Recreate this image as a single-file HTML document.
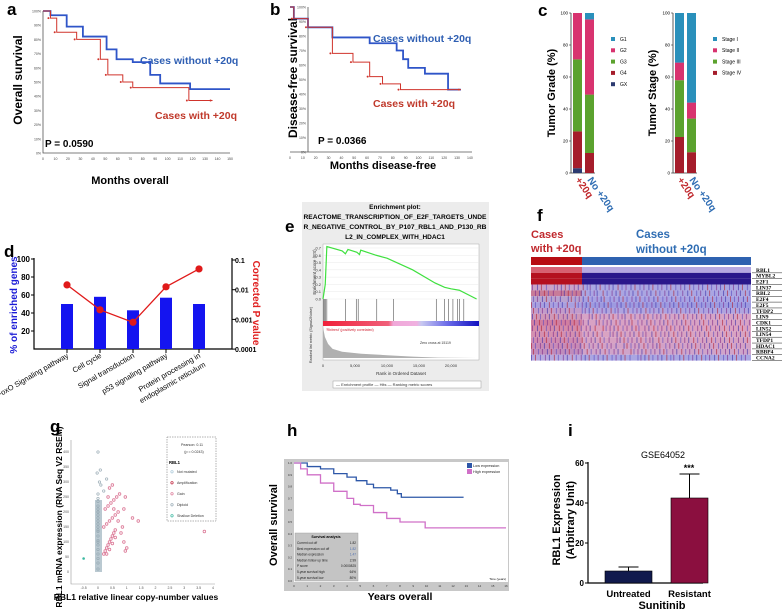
<!DOCTYPE html>
<html><head><meta charset="utf-8"><style>
html,body{margin:0;padding:0;background:#fff;}
svg{display:block;font-family:"Liberation Sans",sans-serif;}
.pl{font-weight:bold;font-size:17px;fill:#000;}
.b{font-weight:bold;}
</style></head><body>
<svg id="fig" width="782" height="609" viewBox="0 0 782 609">
<!-- panel labels -->
<text class="pl" x="7" y="15">a</text>
<text class="pl" x="270" y="15">b</text>
<text class="pl" x="538" y="16">c</text>
<text class="pl" x="4" y="257">d</text>
<text class="pl" x="285" y="232">e</text>
<text class="pl" x="537" y="221">f</text>
<text class="pl" x="50" y="432">g</text>
<text class="pl" x="287" y="436">h</text>
<text class="pl" x="568" y="436">i</text>

<!-- a static text -->
<text x="22" y="80" transform="rotate(-90 22 80)" text-anchor="middle" class="b" font-size="12">Overall survival</text>
<text x="130" y="184" text-anchor="middle" class="b" font-size="11">Months overall</text>
<text x="140" y="64" class="b" font-size="10.5" fill="#2f5fb3">Cases without +20q</text>
<text x="155" y="119" class="b" font-size="10.5" fill="#c0392b">Cases with +20q</text>
<text x="45" y="147" class="b" font-size="10">P = 0.0590</text>
<g id="ga"></g>

<!-- b -->
<text x="297" y="78" transform="rotate(-90 297 78)" text-anchor="middle" class="b" font-size="12">Disease-free survival</text>
<text x="383" y="169" text-anchor="middle" class="b" font-size="11">Months disease-free</text>
<text x="373" y="42" class="b" font-size="10.5" fill="#2f5fb3">Cases without +20q</text>
<text x="373" y="107" class="b" font-size="10.5" fill="#c0392b">Cases with +20q</text>
<text x="318" y="144" class="b" font-size="10">P = 0.0366</text>
<g id="gb"></g>

<!-- c -->
<text x="555" y="93" transform="rotate(-90 555 93)" text-anchor="middle" class="b" font-size="11">Tumor Grade (%)</text>
<text x="656" y="93" transform="rotate(-90 656 93)" text-anchor="middle" class="b" font-size="11">Tumor Stage (%)</text>
<g id="gc"></g>

<!-- d -->
<text x="17" y="305" transform="rotate(-90 17 305)" text-anchor="middle" class="b" font-size="10" fill="#1b1bd6">% of enriched genes</text>
<text x="253" y="303" transform="rotate(90 253 303)" text-anchor="middle" class="b" font-size="10" fill="#e02020">Corrected P value</text>
<g id="gd"></g>

<!-- e -->
<rect x="302" y="202" width="187" height="189" fill="#ececec"/>
<text x="395" y="209" text-anchor="middle" class="b" font-size="6.5">Enrichment plot:</text>
<text x="395" y="219" text-anchor="middle" class="b" font-size="6.5" textLength="183" lengthAdjust="spacingAndGlyphs">REACTOME_TRANSCRIPTION_OF_E2F_TARGETS_UNDE</text>
<text x="395" y="229" text-anchor="middle" class="b" font-size="6.5" textLength="183" lengthAdjust="spacingAndGlyphs">R_NEGATIVE_CONTROL_BY_P107_RBL1_AND_P130_RB</text>
<text x="395" y="239" text-anchor="middle" class="b" font-size="6.5">L2_IN_COMPLEX_WITH_HDAC1</text>
<g id="ge"></g>

<!-- f -->
<text x="531" y="238" class="b" font-size="11" fill="#c0282d">Cases</text>
<text x="531" y="252" class="b" font-size="11" fill="#c0282d">with +20q</text>
<text x="636" y="238" class="b" font-size="11.5" fill="#2f6db3">Cases</text>
<text x="636" y="253" class="b" font-size="11.5" fill="#2f6db3">without +20q</text>
<rect x="531" y="257" width="51" height="8" fill="#b70d13"/>
<rect x="582" y="257" width="169" height="8" fill="#2f62b0"/>
<g id="gf"></g>

<!-- g -->
<text x="62" y="517" transform="rotate(-90 62 517)" text-anchor="middle" class="b" font-size="8.5">RBL1 mRNA expression (RNA Seq V2 RSEM)</text>
<text x="136" y="600" text-anchor="middle" class="b" font-size="8.5">RBL1 relative linear copy-number values</text>
<g id="gg"></g>

<!-- h -->
<rect x="284" y="459" width="225" height="132" fill="#c8c8c8"/>
<rect x="294" y="462" width="214" height="120" fill="#fff"/>
<text x="277" y="525" transform="rotate(-90 277 525)" text-anchor="middle" class="b" font-size="11">Overall survival</text>
<text x="400" y="600" text-anchor="middle" class="b" font-size="10.5">Years overall</text>
<g id="gh"></g>

<!-- i -->
<text x="663" y="458" text-anchor="middle" font-size="9">GSE64052</text>
<text x="560" y="520" transform="rotate(-90 560 520)" text-anchor="middle" class="b" font-size="11">RBL1 Expression</text>
<text x="574" y="520" transform="rotate(-90 574 520)" text-anchor="middle" class="b" font-size="11">(Arbitrary Unit)</text>
<text x="662" y="609" text-anchor="middle" class="b" font-size="11">Sunitinib</text>
<g id="gi"></g>
</svg>
<script>
// ---------- DATA ----------
const aBlueT = [0, 6, 19, 32, 51, 59, 72, 86, 94, 118, 150];
const aBlueS = [100, 97, 89, 82, 73, 66, 64, 55, 49, 45, 45];
const aRedT = [0, 6, 11, 27, 46, 52, 64, 72, 117, 136];
const aRedS = [100, 95, 85, 80, 66, 55, 50, 46, 37, 37];
const aXTicks = [0,10,20,30,40,50,60,70,80,90,100,110,120,130,140,150];
const aYTicks = [0,10,20,30,40,50,60,70,80,90,100];
const bBlueT = [0, 3, 14, 33, 62, 83, 88, 92, 105, 123, 133];
const bBlueS = [100, 92, 86, 79, 75, 70, 64, 58, 54, 43, 43];
const bRedT = [0, 3, 14, 33, 49, 62, 72, 86, 133];
const bRedS = [100, 92, 86, 68, 62, 52, 47, 43, 43];
const bXTicks = [0,10,20,30,40,50,60,70,80,90,100,110,120,130,140];
const gradeNames = ["G1","G2","G3","G4","GX"];
const gradeColors = ["#2a90bb","#d8336f","#5ba22e","#a51d2b","#2c3a70"];
const grade20q = [0, 29, 45, 23, 3];
const gradeNo = [4, 47, 36.5, 12.5, 0];
const stageNames = ["Stage I","Stage II","Stage III","Stage IV"];
const stageColors = ["#2a90bb","#d8336f","#5ba22e","#a51d2b"];
const stage20q = [31, 11, 35.5, 22.5];
const stageNo = [56, 10, 21, 13];
const cTicks = [0,20,40,60,80,100];
const dCats = ["FoxO Signaling pathway","Cell cycle","Signal transduction","p53 signaling pathway","Protein processing in|endoplasmic reticulum"];
const dPct = [50, 58, 43, 57, 50];
const dP = [0.0145, 0.0021, 0.0008, 0.0125, 0.05];
const dLeftTicks = [20,40,60,80,100];
const dRightTicks = [0.0001,0.001,0.01,0.1];
const eRank = [0,350,600,3000,3500,3900,5300,5700,5900,8300,10000,14000,17500,19000,20000,21300,24000];
const eES = [0,0.2,0.72,0.66,0.62,0.68,0.64,0.61,0.67,0.6,0.56,0.4,0.22,0.16,0.14,0.12,0];
const eHits = [100,250,400,600,3500,5200,5500,8400,11000,17700,19000,19600,20300,21000,21300,22000];
const eEsTicks = [0,0.1,0.2,0.3,0.4,0.5,0.6,0.7];
const eRankTicks = [0,5000,10000,15000,20000];
const eMetricRank = [0,300,800,1500,3000,6000,10000,14000,18000,24000];
const eMetricVal = [4.4,3,2,1.3,0.9,0.6,0.4,0.2,0.05,0];
const fGenes = ["RBL1","MYBL2","E2F1","LIN37","RBL2","E2F4","E2F5","TFDP2","LIN9","CDK1","LIN52","LIN54","TFDP1","HDAC1","RBBP4","CCNA2"];
const fBaseA = ["#d75f70","#b4101f","#b4101f","#c9a3c8","#c87b98","#b8a2d0","#a9a0df","#c39bc9","#cf98b8","#d17ea0","#d58aa8","#d48fb0","#cf8ab0","#c88ab6","#c08cbc","#b8a9df"];
const fBaseB = ["#b6a8e1","#2a178b","#2a178b","#aaa6e2","#aaa6e2","#a7a2e3","#9d9ae0","#b0a4df","#d6a4c6","#d8a2c4","#dba0c0","#d9a3c2","#d7a2c3","#d3a1c6","#cfa4ca","#aaa6e2"];
const fStripeCols = [2,5,9,13,17,22,26,31,35,38,44,48,53,57,61,66,70,74,79,83,88,92,97,101,106,110,115,119,124,129,133,138,142,147,151,156,160,165,169,173,178,182,187,191,196,200,205,209,214];
const fStripeColors = ["#7d2a8a","#3a2fa8","#b02030","#5a4bc0"];
const gGrayX = [0,0,0,0,0,0,0,0,0,0,0,0,0,0,0,0,0,0,0,0,0,0,0,0,0.05,-0.03,0.08,0.2,0.1,0.3];
const gGrayY = [10,30,45,60,75,90,105,120,135,150,160,170,180,190,200,210,220,235,245,260,100,140,200,400,300,330,340,270,290,310];
const gPinkX = [0.2,0.25,0.3,0.35,0.4,0.45,0.5,0.55,0.6,0.2,0.3,0.4,0.5,0.6,0.7,0.25,0.35,0.45,0.55,0.65,0.3,0.4,0.5,0.6,0.8,0.9,0.95,1.0,0.85,0.7,1.2,1.4,0.75,0.4,0.5,0.35,0.55,0.9,0.95,3.7];
const gPinkY = [60,70,80,90,100,110,120,130,140,150,160,170,180,190,200,210,220,230,240,250,60,75,95,115,130,100,70,80,150,170,180,170,260,280,290,250,210,210,250,135];
const gXTicks = [-0.5,0,0.5,1,1.5,2,2.5,3,3.5,4];
const gYTicks = [0,50,100,150,200,250,300,350,400];
const hBlueT = [0,1,2,3,4,4.7,5.5,6,7,7.3,7.8,8.1,12.8];
const hBlueS = [1,0.97,0.95,0.91,0.88,0.85,0.82,0.79,0.79,0.77,0.74,0.71,0.71];
const hPinkT = [0,0.5,1,2,3,4,4.5,5,6,7,8,9.6,9.9,16];
const hPinkS = [1,0.95,0.9,0.83,0.76,0.7,0.65,0.64,0.58,0.53,0.5,0.5,0.45,0.45];
const hXTicks = [0,1,2,3,4,5,6,7,8,9,10,11,12,13,14,15,16];
const hYTicks = [0,0.1,0.2,0.3,0.4,0.5,0.6,0.7,0.8,0.9,1.0];
const hTableLabels = ["Current cut off","Best expression cut off","Median expression","Median follow up time","P score","5-year survival high","5-year survival low"];
const hTableValues = ["1.82","1.82","1.47","2.99","0.0000825","64%","80%"];
const iCats = ["Untreated","Resistant"];
const iVals = [6, 42.5];
const iErr = [8, 54.5];
const iColors = ["#111a4d","#8b0f3f"];
const iTicks = [0,20,40,60];

// ---------- helpers ----------
const NS = "http://www.w3.org/2000/svg";
function mk(tag, attrs, parent){ const e=document.createElementNS(NS,tag); for(const k in attrs) e.setAttribute(k,attrs[k]); parent.appendChild(e); return e; }
function stepPath(T,S,xf,yf){ let d="M"+xf(T[0])+","+yf(S[0]); for(let i=1;i<T.length;i++){ d+=" H"+xf(T[i])+" V"+yf(S[i]); } return d; }

// ---------- a ----------
(function(){
const g=document.getElementById('ga');
const x=m=>43+m*(230-43)/150, y=p=>153-p*1.42;
let ax=mk('path',{d:`M43,${y(100)} V153 H230`,stroke:'#555','stroke-width':0.8,fill:'none'},g);
 
aXTicks.forEach(t=>{ const tx=mk('text',{x:x(t),y:160,'font-size':3.5,'text-anchor':'middle',fill:'#444'},g); tx.textContent=t;
   });
aYTicks.forEach(t=>{ const tx=mk('text',{x:41,y:y(t)+1.5,'font-size':3.5,'text-anchor':'end',fill:'#444'},g); tx.textContent=t+'%';
   });
const pb=mk('path',{d:stepPath(aBlueT,aBlueS,x,y),stroke:'#2f55c8','stroke-width':1.8,fill:'none'},g);
 
const pr=mk('path',{d:stepPath(aRedT,aRedS,x,y),stroke:'#d0342c','stroke-width':1,fill:'none'},g);
 
aRedT.forEach((t,i)=>{ if(i==0)return; const c=mk('circle',{cx:x(t)-2,cy:y(aRedS[i]),r:1,fill:'#d0342c'},g);
   });
})();

// ---------- b ----------
(function(){
const g=document.getElementById('gb');
const x=m=>290+m*1.285, y=p=>152-p*1.45;
let ax=mk('path',{d:`M308,${y(100)} V152 M290,152 H472`,stroke:'#555','stroke-width':0.8,fill:'none'},g);
 
bXTicks.forEach(t=>{ const tx=mk('text',{x:x(t),y:159,'font-size':3.5,'text-anchor':'middle',fill:'#444'},g); tx.textContent=t;
   });
aYTicks.forEach(t=>{ const tx=mk('text',{x:306,y:y(t)+1.5,'font-size':3.5,'text-anchor':'end',fill:'#444'},g); tx.textContent=t+'%';
   });
const pb=mk('path',{d:stepPath(bBlueT,bBlueS,x,y),stroke:'#2f55c8','stroke-width':1.8,fill:'none'},g);
 
const pr=mk('path',{d:stepPath(bRedT,bRedS,x,y),stroke:'#d0342c','stroke-width':1,fill:'none'},g);
 
bRedT.forEach((t,i)=>{ if(i==0)return; const c=mk('circle',{cx:x(t)-2,cy:y(bRedS[i]),r:1,fill:'#d0342c'},g);
   });
})();

// ---------- c ----------
(function(){
const g=document.getElementById('gc');
const y=v=>173-v*1.6;
function chart(axX, bx, vals1, vals2, colors, names, legX, pre){
 const ax=mk('path',{d:`M${axX},13 V173 H${bx[1]+10}`,stroke:'#333','stroke-width':0.8,fill:'none'},g);
  
 cTicks.forEach(t=>{ const tx=mk('text',{x:axX-3,y:y(t)+1.5,'font-size':4.5,'text-anchor':'end'},g); tx.textContent=t;
   
  const tk=mk('line',{x1:axX-2,x2:axX,y1:y(t),y2:y(t),stroke:'#333','stroke-width':0.6},g);
    });
 [vals1,vals2].forEach((vals,bi)=>{ let acc=0;
  for(let k=vals.length-1;k>=0;k--){ const v=vals[k]; if(v<=0) continue;
   const r=mk('rect',{x:bx[bi],y:y(acc+v),width:9,height:v*1.6,fill:colors[k]},g);
     acc+=v; } });
 names.forEach((n,k)=>{ const yy=39+k*11.3;
  const m=mk('rect',{x:legX-2,y:yy-2,width:4,height:4,fill:colors[k]},g);
   
  const tx=mk('text',{x:legX+7,y:yy+1.8,'font-size':5},g); tx.textContent=n;
    });
 const l1=mk('text',{x:bx[0]+2,y:180,'font-size':10,'font-weight':'bold',fill:'#c0282d',transform:`rotate(55 ${bx[0]+2} 180)`},g); l1.textContent='+20q';
  
 const l2=mk('text',{x:bx[1]+2,y:180,'font-size':10,'font-weight':'bold',fill:'#2f6db3',transform:`rotate(55 ${bx[1]+2} 180)`},g); l2.textContent='No +20q';
  
}
chart(571,[573,585],grade20q,gradeNo,gradeColors,gradeNames,613,'c-grade');
chart(673,[675,687],stage20q,stageNo,stageColors,stageNames,715,'c-stage');
})();

// ---------- d ----------
(function(){
const g=document.getElementById('gd');
const yl=v=>349-v*0.9;
const yr=p=>260+(-1-Math.log10(p))*29.7;
const cx=[67,100,133,166,199];
const ax=mk('path',{d:'M34,258 V349 H232 V258',stroke:'#000','stroke-width':1.2,fill:'none'},g);
 
dLeftTicks.forEach(t=>{ const tx=mk('text',{x:30,y:yl(t)+3,'font-size':8,'font-weight':'bold','text-anchor':'end'},g); tx.textContent=t;
  
 const tk=mk('line',{x1:31,x2:34,y1:yl(t),y2:yl(t),stroke:'#000'},g);
   });
dRightTicks.forEach(t=>{ const tx=mk('text',{x:235,y:yr(t)+3,'font-size':7,'font-weight':'bold'},g); tx.textContent=t;
  
 const tk=mk('line',{x1:232,x2:236,y1:yr(t),y2:yr(t),stroke:'#000'},g);
   });
dCats.forEach((c,i)=>{ const r=mk('rect',{x:cx[i]-6,y:yl(dPct[i]),width:12,height:dPct[i]*0.9,fill:'#1414f0'},g);
  
 const tk=mk('line',{x1:cx[i],x2:cx[i],y1:349,y2:353,stroke:'#000'},g);
  
 const parts=c.split('|');
 parts.forEach((p,j)=>{ const tx=mk('text',{x:cx[i]+2+j*5,y:357+j*9,'font-size':7.5,'text-anchor':'end',transform:`rotate(-30 ${cx[i]+2+j*5} ${357+j*9})`},g); tx.textContent=p;
    }); });
let d='';
dP.forEach((p,i)=>{ d+=(i?' L':'M')+cx[i]+','+yr(p); });
const ln=mk('path',{d:d,stroke:'#e01a1a','stroke-width':1.3,fill:'none'},g);
 
dP.forEach((p,i)=>{ const c=mk('circle',{cx:cx[i],cy:yr(p),r:3.6,fill:'#e01a1a'},g);
   });
})();

// ---------- e ----------
(function(){
const g=document.getElementById('ge');
const x=r=>323+r*0.0064, y=v=>299-v*72.9;
const bg=mk('rect',{x:323,y:244,width:156,height:116,fill:'#fff',stroke:'#999','stroke-width':0.4},g);
 
eEsTicks.forEach(t=>{ const tx=mk('text',{x:321,y:y(t)+1.5,'font-size':4,'text-anchor':'end',fill:'#333'},g); tx.textContent=t.toFixed(1);
  
 const gl=mk('line',{x1:323,x2:479,y1:y(t),y2:y(t),stroke:'#e4e4e4','stroke-width':0.4},g);
   });
let d=''; eRank.forEach((r,i)=>{ d+=(i?' L':'M')+x(r)+','+y(eES[i]); });
const es=mk('path',{d:d,stroke:'#3fe03f','stroke-width':1.2,fill:'none'},g);
 
eHits.forEach(h=>{ const l=mk('line',{x1:x(h),x2:x(h),y1:299,y2:321,stroke:'#555','stroke-width':0.6},g);
   });
const defs=mk('defs',{},g);
const lg=mk('linearGradient',{id:'egrad',x1:0,x2:1,y1:0,y2:0},defs);
[['0','#f0203a'],['0.42','#f0607a'],['0.45','#f0a8d8'],['0.6','#f0b0e0'],['0.63','#c8c8f0'],['0.8','#6a6ae8'],['1','#1010c0']].forEach(s=>mk('stop',{offset:s[0],'stop-color':s[1]},lg));
const cb=mk('rect',{x:323,y:321,width:156,height:5,fill:'url(#egrad)'},g);
 
const ym=v=>358-v*7;
let md='M'+x(0)+','+ym(0); eMetricRank.forEach((r,i)=>{ md+=' L'+x(r)+','+ym(eMetricVal[i]); }); md+=' L'+x(24000)+','+ym(0)+' Z';
const mt=mk('path',{d:md,fill:'#b0b0b0'},g);
 
const t1=mk('text',{x:326,y:331,'font-size':3.5,fill:'#d02030'},g); t1.textContent="'Rbitrest' (positively correlated)";
 
const t2=mk('text',{x:420,y:344,'font-size':3.5,fill:'#333'},g); t2.textContent="Zero cross at 15119";
 
eRankTicks.forEach(t=>{ const tx=mk('text',{x:x(t),y:367,'font-size':4,'text-anchor':'middle',fill:'#333'},g); tx.textContent=t.toLocaleString('en-US');
   });
const xl=mk('text',{x:401,y:375,'font-size':4.5,'text-anchor':'middle',fill:'#333'},g); xl.textContent='Rank in Ordered Dataset';
 
const yl1=mk('text',{x:316,y:272,'font-size':4.5,'text-anchor':'middle',fill:'#333',transform:'rotate(-90 316 272)'},g); yl1.textContent='Enrichment score (ES)';
 
const yl2=mk('text',{x:312,y:335,'font-size':3.8,'text-anchor':'middle',fill:'#333',transform:'rotate(-90 312 335)'},g); yl2.textContent='Ranked list metric (Signal2Noise)';
 
const lb=mk('rect',{x:333,y:381,width:148,height:7,fill:'#fff',stroke:'#888','stroke-width':0.4},g);
 
const lt=mk('text',{x:336,y:386,'font-size':4,fill:'#333'},g); lt.textContent='— Enrichment profile   — Hits   — Ranking metric scores';
 
})();

// ---------- f ----------
(function(){
const g=document.getElementById('gf');
const rh=5.85, top=267;
fGenes.forEach((gn,i)=>{ const yy=top+i*rh;
 const ra=mk('rect',{x:531,y:yy,width:51,height:rh,fill:fBaseA[i]},g);
  
 const rb=mk('rect',{x:582,y:yy,width:169,height:rh,fill:fBaseB[i]},g);
  
 if(i>=3){ fStripeCols.forEach((c,j)=>{ const col=(c+i*7)%220; const xx=531+col*0.995;
   const s=mk('rect',{x:xx,y:yy,width:1,height:rh,fill:fStripeColors[(j+i)%fStripeColors.length],opacity:0.6},g);
     }); }
 const tx=mk('text',{x:756,y:yy+4.8,'font-size':5.5,'font-family':'Liberation Serif, serif','font-weight':'bold'},g); tx.textContent=gn;
  
 const ul=mk('line',{x1:752,x2:782,y1:yy+rh,y2:yy+rh,stroke:'#222','stroke-width':0.5},g);
   });
})();

// ---------- g ----------
(function(){
const g=document.getElementById('gg');
const x=v=>98+v*28.75, y=v=>572-v*0.3;
const ax=mk('path',{d:'M71,440 V584 H215',stroke:'#999','stroke-width':0.6,fill:'none'},g);
 
gXTicks.forEach(t=>{ const tx=mk('text',{x:x(t),y:589,'font-size':3.5,'text-anchor':'middle',fill:'#555'},g); tx.textContent=t;
   });
gYTicks.forEach(t=>{ const tx=mk('text',{x:69,y:y(t)+1.2,'font-size':3.5,'text-anchor':'end',fill:'#555'},g); tx.textContent=t;
   });
const blob=mk('rect',{x:95,y:y(240),width:7,height:240*0.3,fill:'#a9bcc6',opacity:0.8},g);
 
gGrayX.forEach((v,i)=>{ const c=mk('circle',{cx:x(v),cy:y(gGrayY[i]),r:1.2,fill:'none',stroke:'#98aab4','stroke-width':0.7},g);
   });
gPinkX.forEach((v,i)=>{ const c=mk('circle',{cx:x(v),cy:y(gPinkY[i]),r:1.3,fill:'none',stroke:'#dc7a98','stroke-width':0.8},g);
   });
const sd=mk('circle',{cx:x(-0.5),cy:y(45),r:1.3,fill:'#3bb8a0'},g);
 
const lb=mk('rect',{x:167,y:437,width:49,height:84,fill:'#fff',stroke:'#666','stroke-width':0.5,'stroke-dasharray':'1.5,1'},g);
 
[['Pearson: 0.11',192,446,'middle'],['(p = 0.0243)',194,453,'middle']].forEach(a=>{ const tx=mk('text',{x:a[1],y:a[2],'font-size':3.6,'text-anchor':a[3],fill:'#333'},g); tx.textContent=a[0];
   });
const hd=mk('text',{x:169,y:464,'font-size':4.2,'font-weight':'bold'},g); hd.textContent='RBL1';
 
const legN=['Not mutated','Amplification','Gain','Diploid','Shallow Deletion'], legC=['#aac8d8','#c0203a','#dc7a98','#98aab4','#3bb8a0'];
legN.forEach((n,k)=>{ const yy=473+k*11;
 const c=mk('circle',{cx:172,cy:yy-1.2,r:1.2,fill:'none',stroke:legC[k],'stroke-width':0.7},g);
  
 const tx=mk('text',{x:177,y:yy,'font-size':3.6,fill:'#333'},g); tx.textContent=n;
   });
})();

// ---------- h ----------
(function(){
const g=document.getElementById('gh');
const x=t=>294+t*13.25, y=s=>581-s*118;
hXTicks.forEach(t=>{ const tx=mk('text',{x:x(t),y:587,'font-size':3,'text-anchor':'middle',fill:'#333'},g); tx.textContent=t;
   });
hYTicks.forEach(t=>{ const tx=mk('text',{x:292,y:y(t)+1,'font-size':3,'text-anchor':'end',fill:'#333'},g); tx.textContent=t.toFixed(1);
   });
const pb=mk('path',{d:stepPath(hBlueT,hBlueS,x,y),stroke:'#2d57a8','stroke-width':1.3,fill:'none'},g);
 
const pp=mk('path',{d:stepPath(hPinkT,hPinkS,x,y),stroke:'#d070c8','stroke-width':1.3,fill:'none'},g);
 
[['Low expression','#2d57a8',467],['High expression','#d070c8',473]].forEach(a=>{
 const m=mk('rect',{x:467,y:a[2]-4,width:5,height:5,fill:a[1]},g);
  
 const tx=mk('text',{x:473,y:a[2],'font-size':3.8,fill:'#222'},g); tx.textContent=a[0];
   });
const tb=mk('rect',{x:295,y:533,width:63,height:48,fill:'#c4c4c4',stroke:'#999','stroke-width':0.4},g);
 
const th=mk('text',{x:326,y:538,'font-size':3.6,'font-weight':'bold','text-anchor':'middle'},g); th.textContent='Survival analysis';
 
hTableLabels.forEach((l,k)=>{ const yy=544+k*5.8;
 const tx=mk('text',{x:297,y:yy,'font-size':3.2,fill:'#222'},g); tx.textContent=l;
  
 const tv=mk('text',{x:356,y:yy,'font-size':3.2,'text-anchor':'end',fill:k<3&&k>0?'#5070b0':'#222'},g); tv.textContent=hTableValues[k];
   });
const tt=mk('text',{x:506,y:580,'font-size':3,'text-anchor':'end'},g); tt.textContent='Time (years)';
 
})();

// ---------- i ----------
(function(){
const g=document.getElementById('gi');
const y=v=>583-v*2;
const bx=[[605,47],[671,37]];
const ax=mk('path',{d:'M588,462 V583 H703',stroke:'#000','stroke-width':1.2,fill:'none'},g);
 
iTicks.forEach(t=>{ const tx=mk('text',{x:584,y:y(t)+3,'font-size':8,'font-weight':'bold','text-anchor':'end'},g); tx.textContent=t;
  
 const tk=mk('line',{x1:585,x2:588,y1:y(t),y2:y(t),stroke:'#000','stroke-width':1},g);
   });
iCats.forEach((c,i)=>{ const cx=bx[i][0]+bx[i][1]/2;
 const el=mk('line',{x1:cx,x2:cx,y1:y(iVals[i]),y2:y(iErr[i]),stroke:'#000','stroke-width':1},g);
  
 const ec=mk('line',{x1:cx-10,x2:cx+10,y1:y(iErr[i]),y2:y(iErr[i]),stroke:'#000','stroke-width':1},g);
  
 const r=mk('rect',{x:bx[i][0],y:y(iVals[i]),width:bx[i][1],height:iVals[i]*2,fill:iColors[i],stroke:'#000','stroke-width':0.6},g);
  
 const tx=mk('text',{x:cx,y:597,'font-size':9.5,'font-weight':'bold','text-anchor':'middle'},g); tx.textContent=c;
   });
const st=mk('text',{x:689,y:y(iErr[1])-3,'font-size':9,'font-weight':'bold','text-anchor':'middle'},g); st.textContent='***';
 
})();
</script>
</body></html>
